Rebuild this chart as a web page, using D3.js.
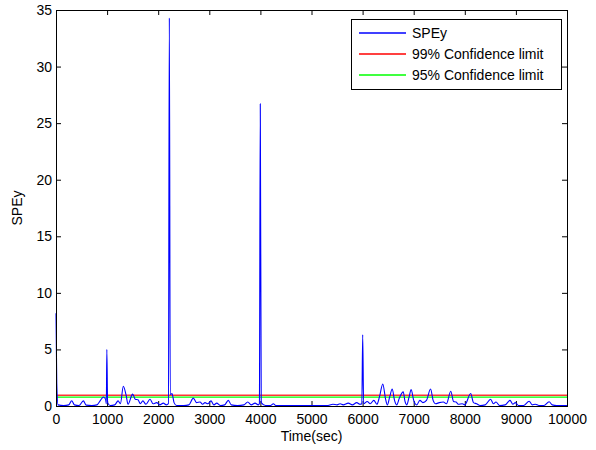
<!DOCTYPE html>
<html>
<head>
<meta charset="utf-8">
<script src="https://cdn.jsdelivr.net/npm/d3@7"></script>
<style>
  body { margin: 0; background: #fff; }
  svg { display: block; font-family: 'Liberation Sans', Arial, sans-serif; }
  .axis text { font-size: 14px; fill: #000; }
  .axis line { stroke: #000; }
</style>
</head>
<body>
<svg id="chart"></svg>
<script>
// sample times (sec) and SPEy values
const time = [
  0, 15, 40, 150, 250, 307, 360, 450, 535, 590, 700, 800, 870, 930, 970, 985, 995, 1010,
  1060, 1150, 1215, 1260, 1318, 1370, 1410, 1500, 1550, 1605, 1650, 1700, 1760, 1840, 1900,
  1970, 2030, 2100, 2160, 2200, 2218, 2236, 2270, 2310, 2360, 2500, 2600, 2687, 2750, 2818,
  2870, 2916, 2970, 3033, 3090, 3145, 3220, 3300, 3372, 3430, 3550, 3680, 3752, 3820, 3895,
  3960, 3980, 3998, 4016, 4100, 4200, 4253, 4300, 4600, 5000, 5300, 5420, 5500, 5560, 5620,
  5720, 5800, 5885, 5950, 5985, 6002, 6020, 6090, 6150, 6220, 6280, 6330, 6395, 6450, 6484,
  6530, 6580, 6625, 6667, 6720, 6795, 6830, 6863, 6910, 6950, 7000, 7059, 7120, 7180, 7250,
  7330, 7380, 7430, 7500, 7580, 7640, 7725, 7780, 7830, 7873, 7950, 8000, 8115, 8170, 8230,
  8300, 8400, 8505, 8560, 8610, 8680, 8790, 8885, 8940, 8990, 9050, 9150, 9260, 9320, 9380,
  9450, 9550, 9650, 9710, 9800, 10000
];
const spey = [
  8.2, 2.0, 0.1, 0.05, 0.1, 0.47, 0.1, 0.05, 0.45, 0.08, 0.05, 0.1, 0.5, 0.8, 0.6, 0.2, 5.0, 0.3,
  0.05, 0.1, 0.45, 0.2, 1.75, 1.0, 0.15, 1.05, 0.6, 0.55, 0.2, 0.45, 0.15, 0.6, 0.2,
  0.3, 0.1, 0.25, 0.1, 0.2, 34.3, 1.0, 1.1, 0.3, 0.05, 0.05, 0.1, 0.7, 0.3, 0.35,
  0.15, 0.3, 0.2, 0.45, 0.1, 0.25, 0.05, 0.1, 0.5, 0.1, 0.05, 0.1, 0.35, 0.1, 0.25,
  0.1, 0.2, 26.7, 0.3, 0.05, 0.05, 0.2, 0.05, 0.03, 0.03, 0.03, 0.15, 0.1, 0.2, 0.1,
  0.25, 0.1, 0.3, 0.15, 0.2, 6.3, 0.2, 0.4, 0.2, 0.5, 0.15, 0.8, 1.95, 0.6, 0.1,
  0.8, 1.5, 0.5, 0.1, 0.7, 1.25, 0.4, 0.1, 0.8, 1.45, 0.5, 0.1, 0.5, 0.3, 0.5,
  1.5, 0.5, 0.2, 0.3, 0.35, 0.2, 1.3, 0.4, 0.35, 0.15, 0.2, 0.1, 1.1, 0.3, 0.2,
  0.05, 0.1, 0.6, 0.2, 0.35, 0.05, 0.1, 0.5, 0.15, 0.3, 0.05, 0.05, 0.42, 0.1, 0.15,
  0.05, 0.05, 0.38, 0.1, 0.05, 0.05
];
const limit99 = 0.95;
const limit95 = 0.78;

const xTicks = [0, 1000, 2000, 3000, 4000, 5000, 6000, 7000, 8000, 9000, 10000];
const yTicks = [0, 5, 10, 15, 20, 25, 30, 35];

const legendLabels = ['SPEy', '99% Confidence limit', '95% Confidence limit'];
const legendColors = ['#0000ff', '#ff0000', '#00ff00'];

const containerWidth = 596;
const containerHeight = 450;
const margin = {top: 10, right: 29, bottom: 44, left: 56};
const width = containerWidth - margin.left - margin.right;
const height = containerHeight - margin.top - margin.bottom;

const svg = d3.select('#chart')
  .attr('width', containerWidth)
  .attr('height', containerHeight);

const chart = svg.append('g')
  .attr('transform', `translate(${margin.left},${margin.top})`);

const xScale = d3.scaleLinear().domain([0, 10000]).range([0, width]);
const yScale = d3.scaleLinear().domain([0, 35]).range([height, 0]);

// axes: ticks point inward, MATLAB style box
chart.append('g')
  .attr('class', 'axis x')
  .attr('transform', `translate(0,${height})`)
  .call(d3.axisBottom(xScale).tickValues(xTicks).tickFormat(d3.format('d'))
    .tickSizeInner(-5).tickSizeOuter(0).tickPadding(8))
  .call(g => g.select('.domain').remove());

chart.append('g')
  .attr('class', 'axis x-top')
  .call(d3.axisBottom(xScale).tickValues(xTicks).tickSizeInner(5).tickSizeOuter(0).tickFormat(''))
  .call(g => g.select('.domain').remove());

chart.append('g')
  .attr('class', 'axis y')
  .call(d3.axisLeft(yScale).tickValues(yTicks).tickFormat(d3.format('d'))
    .tickSizeInner(-5).tickSizeOuter(0).tickPadding(4))
  .call(g => g.select('.domain').remove());

chart.append('g')
  .attr('class', 'axis y-right')
  .attr('transform', `translate(${width},0)`)
  .call(d3.axisLeft(yScale).tickValues(yTicks).tickSizeInner(5).tickSizeOuter(0).tickFormat(''))
  .call(g => g.select('.domain').remove());

// confidence limits
chart.append('line')
  .attr('x1', xScale(0)).attr('x2', xScale(10000))
  .attr('y1', yScale(limit99)).attr('y2', yScale(limit99))
  .attr('stroke', legendColors[1])
  .attr('stroke-opacity', 0.8)
  .attr('stroke-width', 1.6);

chart.append('line')
  .attr('x1', xScale(0)).attr('x2', xScale(10000))
  .attr('y1', yScale(limit95)).attr('y2', yScale(limit95))
  .attr('stroke', legendColors[2])
  .attr('stroke-width', 1.4);

// SPEy series
const data = time.map((t, i) => ({t: t, v: spey[i]}));
const line = d3.line()
  .x(d => xScale(d.t))
  .y(d => yScale(d.v))
  .curve(d3.curveMonotoneX);

chart.append('path')
  .datum(data)
  .attr('fill', 'none')
  .attr('stroke', legendColors[0])
  .attr('stroke-width', 1.1)
  .attr('d', line);

// box
chart.append('rect')
  .attr('x', 0.5).attr('y', 0.5)
  .attr('width', width).attr('height', height)
  .attr('fill', 'none')
  .attr('stroke', '#000')
  .attr('stroke-width', 1);

// axis titles
chart.append('text')
  .attr('x', width / 2)
  .attr('y', height + 35)
  .style('text-anchor', 'middle')
  .style('font-size', '14px')
  .text('Time(sec)');

chart.append('text')
  .attr('transform', `translate(${22 - margin.left},${height / 2}) rotate(-90)`)
  .style('text-anchor', 'middle')
  .style('font-size', '14px')
  .text('SPEy');

// legend
const legend = chart.append('g')
  .attr('transform', `translate(${351 - margin.left},${19 - margin.top})`);

legend.append('rect')
  .attr('x', 0.5).attr('y', 0.5)
  .attr('width', 210).attr('height', 70)
  .attr('fill', '#fff')
  .attr('stroke', '#000');

const rows = legend.selectAll('.legend-row')
  .data(legendLabels)
  .enter()
  .append('g')
  .attr('class', 'legend-row')
  .attr('transform', (d, i) => `translate(0,${14 + i * 21})`);

rows.append('line')
  .attr('x1', 8).attr('x2', 55)
  .attr('y1', 0).attr('y2', 0)
  .attr('stroke-width', 1.5)
  .attr('stroke', d => legendColors[legendLabels.indexOf(d)]);

rows.append('text')
  .attr('x', 61)
  .attr('dy', '0.36em')
  .style('font-size', '14px')
  .text(d => d);
</script>
</body>
</html>
